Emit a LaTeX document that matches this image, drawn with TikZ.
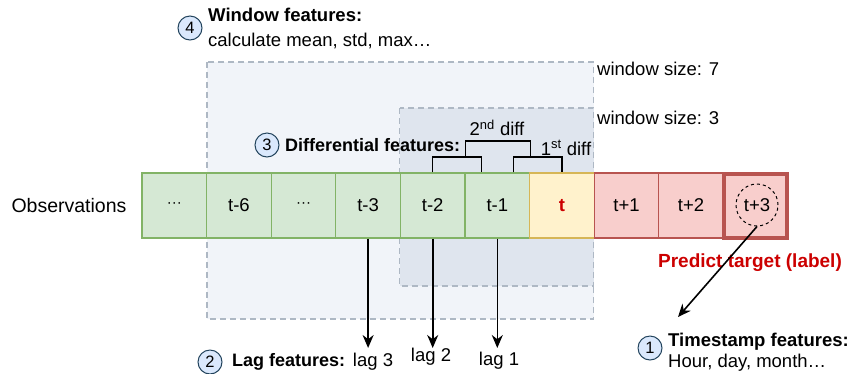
\documentclass[tikz,border=0pt]{standalone}
\usepackage{fontspec}
\setmainfont{Liberation Sans}
\usetikzlibrary{arrows.meta}
\definecolor{gfill}{HTML}{D5E8D4}
\definecolor{gline}{HTML}{82B366}
\definecolor{yfill}{HTML}{FFF2CC}
\definecolor{yline}{HTML}{D6B656}
\definecolor{rfill}{HTML}{F8CECC}
\definecolor{rline}{HTML}{B85450}
\definecolor{winfill}{HTML}{F1F4F9}
\definecolor{win3fill}{HTML}{DFE5EE}
\definecolor{winline}{HTML}{AEB8C4}
\definecolor{numfill}{HTML}{DAE8FC}
\definecolor{numline}{HTML}{23445D}
\definecolor{redtext}{HTML}{CC0000}
\newcommand{\mydots}{{\fontsize{15}{15}\selectfont\raisebox{1pt}{···}}}
\tikzset{
  obs/.style={draw, line width=1.3pt, minimum width=64.6pt, minimum height=65pt, inner sep=0pt, font=\fontsize{18.5}{21}\selectfont},
  gbox/.style={obs, fill=gfill, draw=gline},
  ybox/.style={obs, fill=yfill, draw=yline},
  rbox/.style={obs, fill=rfill, draw=rline},
  winbox/.style={draw=winline, line width=1.5pt, dash pattern=on 6pt off 4pt},
  numcirc/.style={circle, draw=numline, fill=numfill, line width=1pt, minimum size=24pt, inner sep=0pt, font=\fontsize{16.5}{18}\selectfont},
  txt/.style={font=\fontsize{18.5}{21}\selectfont, inner sep=0pt},
  btxt/.style={font=\fontsize{18}{21}\selectfont\bfseries, inner sep=0pt},
  arr/.style={line width=1.6pt, -{Stealth[length=13pt,width=11pt]}},
  brk/.style={line width=1.4pt}
}
\begin{document}
\begin{tikzpicture}[x=1pt,y=-1pt]
\useasboundingbox (0,0) rectangle (858,373);
% windows
\draw[winbox, fill=winfill] (207,62) rectangle (593.5,319);
\draw[winbox, fill=win3fill] (399.5,108) rectangle (593.5,286);
\node[txt, anchor=west] (w7) at (597,69) {window size: 7};
\node[txt, anchor=west] (w3) at (597,118) {window size: 3};
% observations
\node[font=\fontsize{19.5}{22}\selectfont, inner sep=0pt] (obslab) at (69,206) {Observations};
\node[gbox] (b1) at (174.3,205.5) {\mydots};
\node[gbox] (b2) at (238.9,205.5) {t-6};
\node[gbox] (b3) at (303.5,205.5) {\mydots};
\node[gbox] (b4) at (368.1,205.5) {t-3};
\node[gbox] (b5) at (432.7,205.5) {t-2};
\node[gbox] (b6) at (497.3,205.5) {t-1};
\node[ybox] (b7) at (561.9,205.5) {\textcolor{redtext}{\bfseries t}};
\node[rbox] (b8) at (626.5,205.5) {t+1};
\node[rbox] (b9) at (691.1,205.5) {t+2};
\node[rbox, line width=4pt, minimum width=63pt, minimum height=64pt] (b10) at (755.7,205.5) {};
\node[circle, draw, dashed, line width=1pt, minimum size=42pt, inner sep=0pt, font=\fontsize{18.5}{21}\selectfont] (tgt) at (757,205) {t+3};
% differential brackets
\coordinate (h1) at (0,157);
\coordinate (h2) at (0,141);
\draw[brk] (b5.north) -- (b5.north |- h1) -| ([xshift=-16pt]b6.north);
\draw[brk] ([xshift=16pt]b6.north) -- ([xshift=16pt]b6.north |- h1) -| (b7.north);
\draw[brk] (b5.north east |- h1) -- (b5.north east |- h2) -| (b6.north east |- h1);
\node[txt] (d2) at (497,128) {2\textsuperscript{nd} diff};
\node[txt] (d1) at (566,148) {1\textsuperscript{st} diff};
\node[numcirc] (n3) at (267,145) {3};
\node[btxt, anchor=west] (difflab) at (285,145) {Differential features:};
% window features
\node[numcirc] (n4) at (190,28) {4};
\node[anchor=west, inner sep=0pt, align=left, font=\fontsize{18.5}{25}\selectfont] (winlab) at (208,28) {\textbf{Window features:}\\calculate mean, std, max…};
% lag features
\node[numcirc] (n2) at (210,362) {2};
\node[btxt, anchor=west] (laglab) at (232,362) {Lag features:};
\node[txt] (lag3) at (373,362) {lag 3};
\node[txt] (lag2) at (431,357) {lag 2};
\node[txt] (lag1) at (499,361) {lag 1};
\draw[arr] (b4.south) -- (b4.south |- 0,348);
\draw[arr] (b5.south) -- (b5.south |- 0,348);
\draw[arr] (b6.south) -- (b6.south |- 0,348);
% target
\node[font=\fontsize{19}{21}\selectfont\bfseries, text=redtext, inner sep=0pt] (pred) at (750,263) {Predict target (label)};
\coordinate (tsend) at (678,317);
\draw[arr] (tgt.south) -- (tsend);
\node[numcirc] (n1) at (650,348) {1};
\node[anchor=west, inner sep=0pt, align=left, font=\fontsize{18.5}{21}\selectfont] (tslab) at (668,352) {\textbf{Timestamp features:}\\Hour, day, month…};
\end{tikzpicture}
\end{document}
